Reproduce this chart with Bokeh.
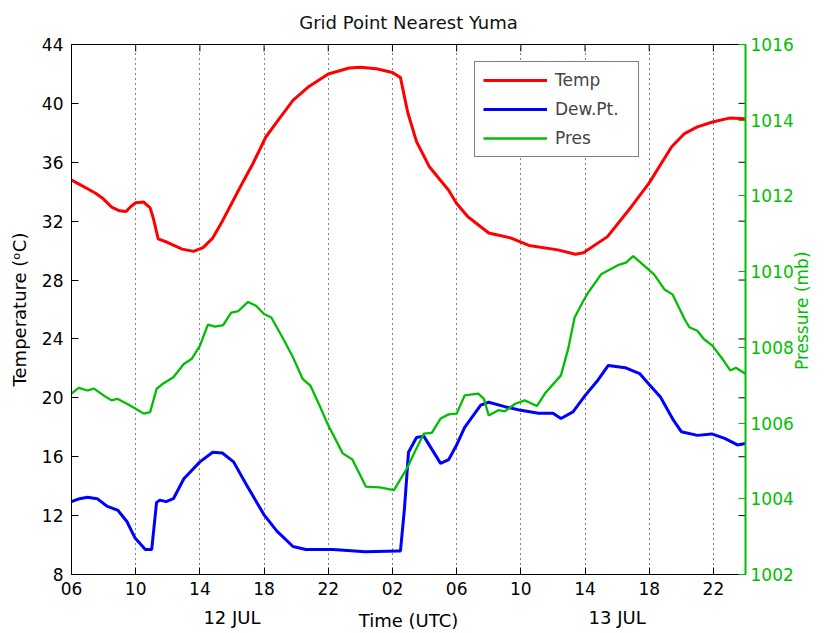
import math
from bokeh.plotting import figure
from bokeh.models import Range1d, LinearAxis, FixedTicker
from bokeh.embed import file_html
from bokeh.resources import INLINE

FONT = "DejaVu Sans"
GREEN = "#00BF00"

# ---------------- data (hours since 06 UTC 12 JUL) ----------------
temp_hours = [0.0, 0.5, 1.0, 1.5, 2.0, 2.5, 3.0, 3.4, 3.7, 4.0, 4.5, 4.9, 5.1, 5.4, 6.0,
              6.9, 7.6, 8.2, 8.8, 9.4, 10.1, 10.7, 11.3, 12.1, 12.8, 13.8, 14.8, 16.0,
              17.3, 18.0, 19.0, 20.0, 20.5, 20.95, 21.5, 22.3, 23.5, 24.0, 24.7, 26.0,
              27.4, 28.5, 30.3, 31.4, 31.9, 33.4, 34.9, 36.0, 37.4, 38.2, 39.0, 40.0,
              41.0, 42.0]
temp = [34.8, 34.5, 34.2, 33.9, 33.5, 32.95, 32.7, 32.65, 33.0, 33.25, 33.3, 32.9, 32.2,
        30.8, 30.55, 30.1, 29.95, 30.2, 30.85, 32.0, 33.45, 34.7, 35.9, 37.7, 38.75, 40.2,
        41.15, 42.0, 42.4, 42.45, 42.35, 42.1, 41.75, 39.4, 37.4, 35.7, 34.1, 33.2, 32.3,
        31.2, 30.85, 30.35, 30.05, 29.75, 29.85, 30.95, 33.0, 34.6, 37.05, 37.95, 38.4,
        38.75, 39.0, 38.95]

dew_hours = [0.0, 0.5, 1.0, 1.6, 2.2, 2.9, 3.45, 3.95, 4.6, 5.0, 5.3, 5.5, 5.9, 6.35, 7.0,
             8.0, 8.8, 9.4, 10.1, 10.9, 12.0, 12.8, 13.8, 14.6, 16.3, 18.3, 20.3, 20.5,
             20.75, 21.0, 21.5, 21.95, 23.0, 23.5, 24.0, 24.5, 25.5, 26.0, 27.0, 28.0,
             29.1, 30.0, 30.5, 31.25, 32.0, 32.8, 33.45, 34.5, 35.4, 36.0, 36.7, 37.5,
             38.0, 39.0, 39.9, 40.7, 41.5, 42.0]
dew = [12.95, 13.15, 13.25, 13.15, 12.65, 12.35, 11.6, 10.5, 9.7, 9.7, 12.9, 13.05, 12.95,
       13.15, 14.5, 15.65, 16.3, 16.25, 15.65, 14.1, 12.05, 10.95, 9.9, 9.7, 9.7, 9.55,
       9.6, 9.6, 12.5, 16.3, 17.3, 17.4, 15.55, 15.8, 16.8, 18.0, 19.5, 19.7, 19.4, 19.15,
       18.95, 18.95, 18.6, 19.05, 20.15, 21.2, 22.2, 22.05, 21.65, 20.9, 20.05, 18.5,
       17.7, 17.45, 17.55, 17.25, 16.8, 16.9]

pres_hours = [0.0, 0.45, 1.0, 1.4, 2.0, 2.5, 2.85, 3.45, 4.0, 4.5, 4.9, 5.3, 5.7, 6.35, 7.0,
              7.5, 8.0, 8.5, 8.95, 9.45, 9.95, 10.4, 11.0, 11.5, 12.0, 12.45, 13.2, 13.8,
              14.4, 14.9, 15.45, 16.0, 16.9, 17.5, 18.35, 19.2, 20.1, 20.5, 20.9, 21.4,
              21.95, 22.45, 23.0, 23.5, 24.0, 24.5, 25.35, 25.7, 26.0, 26.6, 27.0, 27.65,
              28.25, 29.0, 29.5, 30.5, 30.95, 31.35, 31.9, 32.2, 33.0, 34.05, 34.55, 35.0,
              35.7, 36.3, 36.95, 37.45, 38.2, 38.5, 39.0, 39.4, 39.95, 40.55, 41.05, 41.4,
              42.0]
pres = [1006.78, 1006.93, 1006.86, 1006.91, 1006.73, 1006.6, 1006.64, 1006.51, 1006.38,
        1006.25, 1006.29, 1006.9, 1007.04, 1007.21, 1007.56, 1007.7, 1008.04, 1008.6,
        1008.55, 1008.59, 1008.92, 1008.96, 1009.2, 1009.1, 1008.88, 1008.79, 1008.22,
        1007.74, 1007.17, 1006.98, 1006.47, 1005.94, 1005.2, 1005.04, 1004.32, 1004.3,
        1004.23, 1004.52, 1004.8, 1005.25, 1005.72, 1005.74, 1006.12, 1006.23, 1006.25,
        1006.73, 1006.78, 1006.64, 1006.2, 1006.34, 1006.31, 1006.51, 1006.6, 1006.45,
        1006.78, 1007.26, 1007.96, 1008.79, 1009.23, 1009.45, 1009.93, 1010.17, 1010.24,
        1010.41, 1010.15, 1009.93, 1009.53, 1009.4, 1008.75, 1008.53, 1008.44, 1008.22,
        1008.04, 1007.7, 1007.39, 1007.46, 1007.3]

x_ticks = [0, 4, 8, 12, 16, 20, 24, 28, 32, 36, 40]
x_labels = ["06", "10", "14", "18", "22", "02", "06", "10", "14", "18", "22"]
date_ticks = [10, 34]
date_labels = ["12 JUL", "13 JUL"]
t_ticks = [8, 12, 16, 20, 24, 28, 32, 36, 40, 44]
p_ticks = [1002, 1004, 1006, 1008, 1010, 1012, 1014, 1016]
p_title_at = [1007.4]          # where the rotated pressure-axis title starts
p_title = ["Pressure (mb)"]
X_MIN, X_MAX = 0, 42
T_MIN, T_MAX = 8, 44
P_MIN, P_MAX = 1002, 1016

# ---------------- figure ----------------
p = figure(width=825, height=633, x_range=Range1d(X_MIN, X_MAX), y_range=Range1d(T_MIN, T_MAX),
           output_backend="svg", toolbar_location=None,
           min_border_left=71, min_border_right=77, min_border_top=44, min_border_bottom=57)
p.extra_y_ranges = {"pres": Range1d(P_MIN, P_MAX)}
p.outline_line_color = "black"
p.outline_line_width = 1
p.background_fill_color = "white"
p.border_fill_color = "white"

p.title.text = "Grid Point Nearest Yuma"
p.title.align = "center"
p.title.vertical_align = "top"
p.title.text_font = FONT
p.title.text_font_size = "18px"
p.title.text_font_style = "normal"
p.title.text_color = "#111111"
p.title.standoff = 20


def style_axis(ax, color="black"):
    ax.major_tick_in = 7
    ax.major_tick_out = 0
    ax.minor_tick_line_color = None
    ax.major_tick_line_color = color
    ax.axis_line_color = color
    ax.major_label_text_font = FONT
    ax.major_label_text_font_size = "17px"
    ax.major_label_text_color = color
    ax.axis_label_text_font = FONT
    ax.axis_label_text_font_size = "18px"
    ax.axis_label_text_font_style = "normal"
    ax.axis_label_text_color = color


xa = p.xaxis[0]
style_axis(xa)
xa.ticker = FixedTicker(ticks=x_ticks)
xa.major_label_overrides = {t: l for t, l in zip(x_ticks, x_labels)}
xa.major_label_standoff = 7

# second row under the hour labels: dates + axis title on the same line
da = LinearAxis(ticker=FixedTicker(ticks=date_ticks))
style_axis(da)
da.axis_line_color = None
da.major_tick_line_color = None
da.major_tick_in = 0
da.major_label_text_font_size = "18px"
da.major_label_overrides = {t: l for t, l in zip(date_ticks, date_labels)}
da.major_label_standoff = 9
da.axis_label = "Time (UTC)"
da.axis_label_standoff = -21
p.add_layout(da, "below")

ya = p.yaxis[0]
style_axis(ya)
ya.ticker = FixedTicker(ticks=t_ticks)
ya.major_label_standoff = 8
ya.axis_label = "Temperature (\u1d52C)"
ya.axis_label_standoff = 9

rp = LinearAxis(y_range_name="pres", ticker=FixedTicker(ticks=p_ticks))
style_axis(rp, GREEN)
rp.axis_line_width = 2
rp.major_label_standoff = 5
p.add_layout(rp, "right")

# pressure-axis title, read bottom-to-top like the reference
rt = LinearAxis(y_range_name="pres", ticker=FixedTicker(ticks=p_title_at))
style_axis(rt, GREEN)
rt.axis_line_color = None
rt.major_tick_line_color = None
rt.major_tick_in = 0
rt.major_label_text_font_size = "17px"
rt.major_label_overrides = {v: s for v, s in zip(p_title_at, p_title)}
rt.major_label_orientation = math.pi / 2
rt.major_label_standoff = 6
p.add_layout(rt, "right")

p.xgrid.ticker = FixedTicker(ticks=x_ticks)
p.xgrid.grid_line_color = "black"
p.xgrid.grid_line_dash = "1 4"
p.xgrid.grid_line_width = 1
p.ygrid.visible = False

# mirrored inward tick marks on the top and right edges (boxed axes)
p.scatter(x_ticks, [T_MAX] * len(x_ticks), marker="dash", angle=math.pi / 2, size=14,
          line_color="black", line_width=1)
p.scatter([X_MAX] * len(t_ticks), t_ticks, marker="dash", size=14,
          line_color="black", line_width=1)

p.line(temp_hours, temp, line_color="#FF0000", line_width=3, legend_label="Temp")
p.line(dew_hours, dew, line_color="#0000FF", line_width=3, legend_label="Dew.Pt.")
p.line(pres_hours, pres, line_color=GREEN, line_width=2.3, legend_label="Pres",
       y_range_name="pres")

lg = p.legend[0]
lg.location = (403, 417)
lg.margin = 0
lg.padding = 8
lg.spacing = 9
lg.glyph_width = 64
lg.glyph_height = 18
lg.label_height = 18
lg.label_width = 75
lg.label_standoff = 8
lg.label_text_font = FONT
lg.label_text_font_size = "17px"
lg.border_line_color = "black"
lg.border_line_width = 1
lg.background_fill_alpha = 1.0

open("out.html", "w").write(file_html(p, INLINE))
